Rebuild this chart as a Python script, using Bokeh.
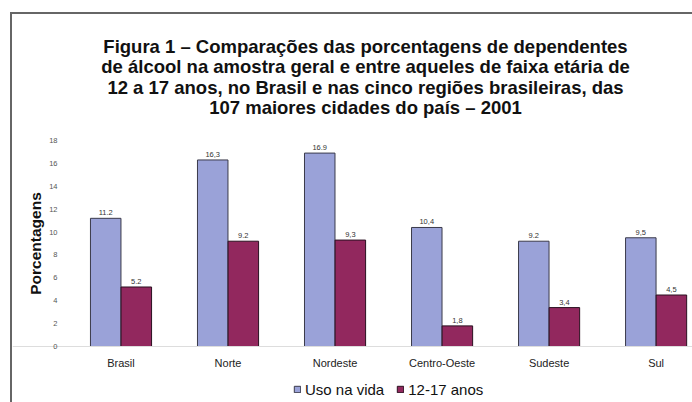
import math
from bokeh.plotting import figure
from bokeh.models import (ColumnDataSource, Range1d, FixedTicker, Legend, LegendItem,
                          Label, LabelSet)
from bokeh.core.properties import value
from bokeh.embed import file_html
from bokeh.resources import INLINE

categories = ["Brasil", "Norte", "Nordeste", "Centro-Oeste", "Sudeste", "Sul"]
uso_na_vida = [11.2, 16.3, 16.9, 10.4, 9.2, 9.5]
anos_12_17 = [5.2, 9.2, 9.3, 1.8, 3.4, 4.5]
uso_labels = ["11.2", "16,3", "16.9", "10,4", "9.2", "9,5"]
anos_labels = ["5.2", "9.2", "9,3", "1,8", "3,4", "4,5"]
y_ticks = [0, 2, 4, 6, 8, 10, 12, 14, 16, 18]
series_names = ["Uso na vida", "12-17 anos"]
y_title = "Porcentagens"
title_lines = ["Figura 1 – Comparações das porcentagens de dependentes",
               "de álcool na amostra geral e entre aqueles de faixa etária de",
               "12 a 17 anos, no Brasil e nas cinco regiões brasileiras, das",
               "107 maiores cidades do país – 2001"]

BLUE = "#9aa2d8"
RED = "#92285e"
FONT = "Liberation Sans"

centers = [i + 0.5 for i in range(len(categories))]
off = 0.143
w = 0.285

src_a = ColumnDataSource(dict(x=[c - off for c in centers], top=uso_na_vida, lab=uso_labels))
src_b = ColumnDataSource(dict(x=[c + off for c in centers], top=anos_12_17, lab=anos_labels))

# frame spans the whole canvas; both axes are pinned at value 0
p = figure(frame_width=680, frame_height=388, output_backend="svg", toolbar_location=None,
           x_range=Range1d(-0.5139, 5.84), y_range=Range1d(-4.893, 29.01),
           min_border_left=0, min_border_right=0, min_border_top=0,
           min_border_bottom=0)
p.styles = {"margin-left": "10px", "margin-top": "12px",
            "border-left": "2px solid #666666", "border-top": "2px solid #666666"}
p.outline_line_color = None
p.xgrid.grid_line_color = None
p.ygrid.grid_line_color = None
p.background_fill_color = "white"
p.border_fill_color = "white"

ra = p.vbar(x="x", top="top", width=w, bottom=0, source=src_a,
            fill_color=BLUE, line_color="#3a3a4a", line_width=1)
rb = p.vbar(x="x", top="top", width=w, bottom=0, source=src_b,
            fill_color=RED, line_color="#2a1020", line_width=1)

for src in (src_a, src_b):
    p.add_layout(LabelSet(x="x", y="top", text="lab", source=src,
                          text_align="center", text_baseline="bottom",
                          y_offset=3, text_font=value(FONT), text_font_size="7.5px",
                          text_color="#333333"))

# y axis
yax = p.yaxis[0]
yax.fixed_location = 0
yax.ticker = FixedTicker(ticks=y_ticks)
yax.minor_tick_line_color = None
yax.major_tick_line_color = None
yax.axis_line_color = None
yax.major_label_text_font = FONT
yax.major_label_text_font_size = "7.5px"
yax.major_label_text_color = "#555555"
yax.major_label_standoff = 4
yax.axis_label = None

p.add_layout(Label(x=23, y=159, x_units="screen", y_units="screen", text=y_title,
                   angle=math.pi / 2, text_align="center", text_baseline="middle",
                   text_font=FONT, text_font_size="15.5px", text_font_style="bold",
                   text_color="#111111"))

# x axis
xax = p.xaxis[0]
xax.fixed_location = 0
xax.ticker = FixedTicker(ticks=centers)
xax.major_label_overrides = {c: n for c, n in zip(centers, categories)}
xax.minor_tick_line_color = None
xax.major_tick_line_color = None
xax.axis_line_color = "#dddddd"
xax.major_label_text_font = FONT
xax.major_label_text_font_size = "11px"
xax.major_label_text_color = "#222222"
xax.major_label_standoff = 4

# title lines (screen units: from frame left / frame bottom)
title_y = [356, 336, 315.5, 295]
for line, ty in zip(title_lines, title_y):
    p.add_layout(Label(x=353, y=ty, x_units="screen", y_units="screen",
                       text=line, text_align="center", text_baseline="alphabetic",
                       text_font=FONT, text_font_size="18.5px",
                       text_font_style="bold", text_color="#111111"))

# legend
legend = Legend(items=[LegendItem(label=series_names[0], renderers=[ra]),
                       LegendItem(label=series_names[1], renderers=[rb])],
                orientation="horizontal", location=(281, 3),
                label_text_font=FONT, label_text_font_size="15px",
                label_text_color="#111111", glyph_width=8, glyph_height=8,
                label_height=20, label_standoff=4, spacing=12, padding=0, margin=0,
                border_line_color=None, background_fill_alpha=0)
p.add_layout(legend, "center")

open("out.html", "w").write(file_html(p, INLINE))
